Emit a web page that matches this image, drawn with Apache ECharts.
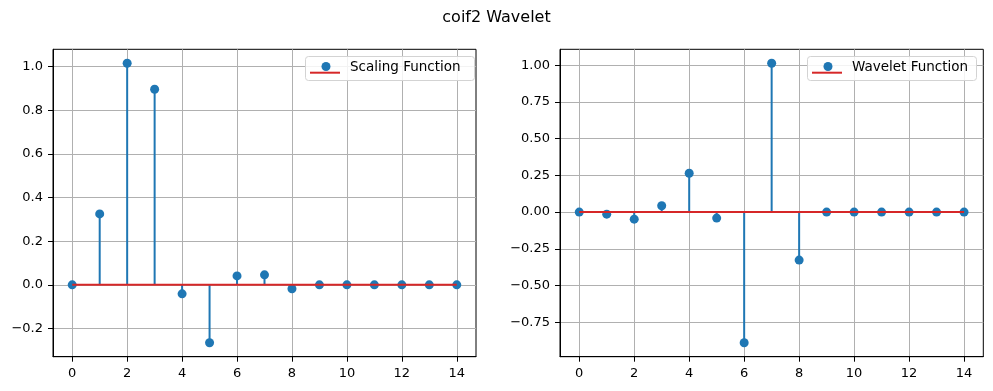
<!DOCTYPE html>
<html>
<head>
<meta charset="utf-8">
<script src="https://cdn.jsdelivr.net/npm/echarts@6/dist/echarts.min.js"></script>
<style>
html,body{margin:0;padding:0;background:#fff;}
#chart{width:993px;height:391px;}
</style>
</head>
<body>
<div id="chart"></div>
<script>
// ---- data ----
const titleText = 'coif2 Wavelet';
const xValues = [0,1,2,3,4,5,6,7,8,9,10,11,12,13,14];
const scalingValues = [0, 0.325, 1.015, 0.896, -0.041, -0.265, 0.041, 0.046, -0.018, 0, 0, 0, 0, 0, 0];
const waveletValues = [0, -0.014, -0.048, 0.043, 0.265, -0.041, -0.89, 1.014, -0.327, 0, 0, 0, 0, 0, 0];
const xTicks = [0, 2, 4, 6, 8, 10, 12, 14];
const scalingYTicks = [-0.2, 0, 0.2, 0.4, 0.6, 0.8, 1.0];
const waveletYTicks = [-0.75, -0.5, -0.25, 0, 0.25, 0.5, 0.75, 1.0];
const scalingName = 'Scaling Function';
const waveletName = 'Wavelet Function';

// ---- styling ----
const FONT = 'DejaVu Sans';
const C0 = '#1f77b4';
const C3 = '#d62728';

function range(vals) {
  const mn = Math.min(...vals), mx = Math.max(...vals);
  const p = (mx - mn) * 0.05;
  return [mn - p, mx + p];
}
const xr = range(xValues);
const yr1 = range(scalingValues);
const yr2 = range(waveletValues);

function fmt(d) {
  return function (v) {
    const s = Math.abs(v).toFixed(d);
    return (v < -1e-9 ? '\u2212' : '') + s;
  };
}

function xAxis(gi) {
  return {
    type: 'value', gridIndex: gi, min: xr[0], max: xr[1],
    axisLine: { show: true, onZero: false, lineStyle: { color: '#000', width: 1 } },
    axisTick: { show: true, length: 5, customValues: xTicks, lineStyle: { color: '#000', width: 1 } },
    axisLabel: { customValues: xTicks, margin: 10, color: '#000', fontFamily: FONT, fontSize: 13, formatter: fmt(0) },
    splitLine: { show: true, lineStyle: { color: '#b0b0b0', width: 1 } }
  };
}
function yAxis(gi, r, ticks, d) {
  return {
    type: 'value', gridIndex: gi, min: r[0], max: r[1],
    axisLine: { show: true, onZero: false, lineStyle: { color: '#000', width: 1 } },
    axisTick: { show: true, length: 5, customValues: ticks, lineStyle: { color: '#000', width: 1 } },
    axisLabel: { customValues: ticks, margin: 10, color: '#000', fontFamily: FONT, fontSize: 13, formatter: fmt(d) },
    splitLine: { show: true, lineStyle: { color: '#b0b0b0', width: 1 } }
  };
}

function stemSeries(name, vals, gi) {
  return {
    name: name + ' stems', type: 'custom', xAxisIndex: gi, yAxisIndex: gi, z: 3,
    data: xValues.map((x, i) => [x, vals[i]]),
    renderItem: function (params, api) {
      const x = api.value(0), y = api.value(1);
      const p0 = api.coord([x, 0]);
      const p1 = api.coord([x, y]);
      return { type: 'line', shape: { x1: p0[0], y1: p0[1], x2: p1[0], y2: p1[1] },
        style: { stroke: C0, lineWidth: 2 } };
    },
    silent: true
  };
}
function markerSeries(name, vals, gi) {
  return {
    name: name, type: 'scatter', xAxisIndex: gi, yAxisIndex: gi, z: 2,
    symbol: 'circle', symbolSize: 9, itemStyle: { color: C0, opacity: 1 },
    data: xValues.map((x, i) => [x, vals[i]]), silent: true
  };
}
function baseSeries(name, gi) {
  return {
    name: name + ' baseline', type: 'line', xAxisIndex: gi, yAxisIndex: gi, z: 4,
    symbol: 'none', lineStyle: { color: C3, width: 2 }, itemStyle: { color: C3 },
    data: [[xValues[0], 0], [xValues[xValues.length - 1], 0]], silent: true
  };
}
// legend box drawn as graphic (handle: red baseline + blue marker, then label)
function legendGraphic(label, boxLeft, boxRight) {
  return [
    { type: 'rect', z: 100, silent: true, shape: { x: boxLeft + 0.5, y: 56.5, width: boxRight - boxLeft, height: 24, r: 3 },
      style: { fill: 'rgba(255,255,255,0.85)', stroke: '#d3d3d3', lineWidth: 1 } },
    { type: 'line', z: 101, silent: true, shape: { x1: boxLeft + 5, y1: 72.7, x2: boxLeft + 35, y2: 72.7 },
      style: { stroke: C3, lineWidth: 2 } },
    { type: 'circle', z: 102, silent: true, shape: { cx: boxLeft + 21, cy: 66.5, r: 4.5 }, style: { fill: C0 } },
    { type: 'text', z: 102, silent: true, x: boxLeft + 45, y: 67.8,
      style: { text: label, fill: '#000', font: '13.5px "DejaVu Sans"', verticalAlign: 'middle', align: 'left' } }
  ];
}

const chart = echarts.init(document.getElementById('chart'), null, { renderer: 'canvas' });
chart.setOption({
  animation: false,
  backgroundColor: '#fff',
  title: { text: titleText, left: 'center', top: 10, padding: 0,
    textStyle: { fontFamily: FONT, fontSize: 16, fontWeight: 'normal', color: '#000' } },
  grid: [
    { left: 53, top: 49.3, width: 423, height: 307.4, show: true, borderColor: '#000', borderWidth: 1, backgroundColor: 'transparent' },
    { left: 560, top: 49.3, width: 423.3, height: 307.4, show: true, borderColor: '#000', borderWidth: 1, backgroundColor: 'transparent' }
  ],
  xAxis: [xAxis(0), xAxis(1)],
  yAxis: [yAxis(0, yr1, scalingYTicks, 1), yAxis(1, yr2, waveletYTicks, 2)],
  graphic: [].concat(
    legendGraphic(scalingName, 305, 474),
    legendGraphic(waveletName, 807, 976)
  ),
  series: [
    markerSeries(scalingName, scalingValues, 0),
    stemSeries(scalingName, scalingValues, 0),
    baseSeries(scalingName, 0),
    markerSeries(waveletName, waveletValues, 1),
    stemSeries(waveletName, waveletValues, 1),
    baseSeries(waveletName, 1)
  ]
});
</script>
</body>
</html>
